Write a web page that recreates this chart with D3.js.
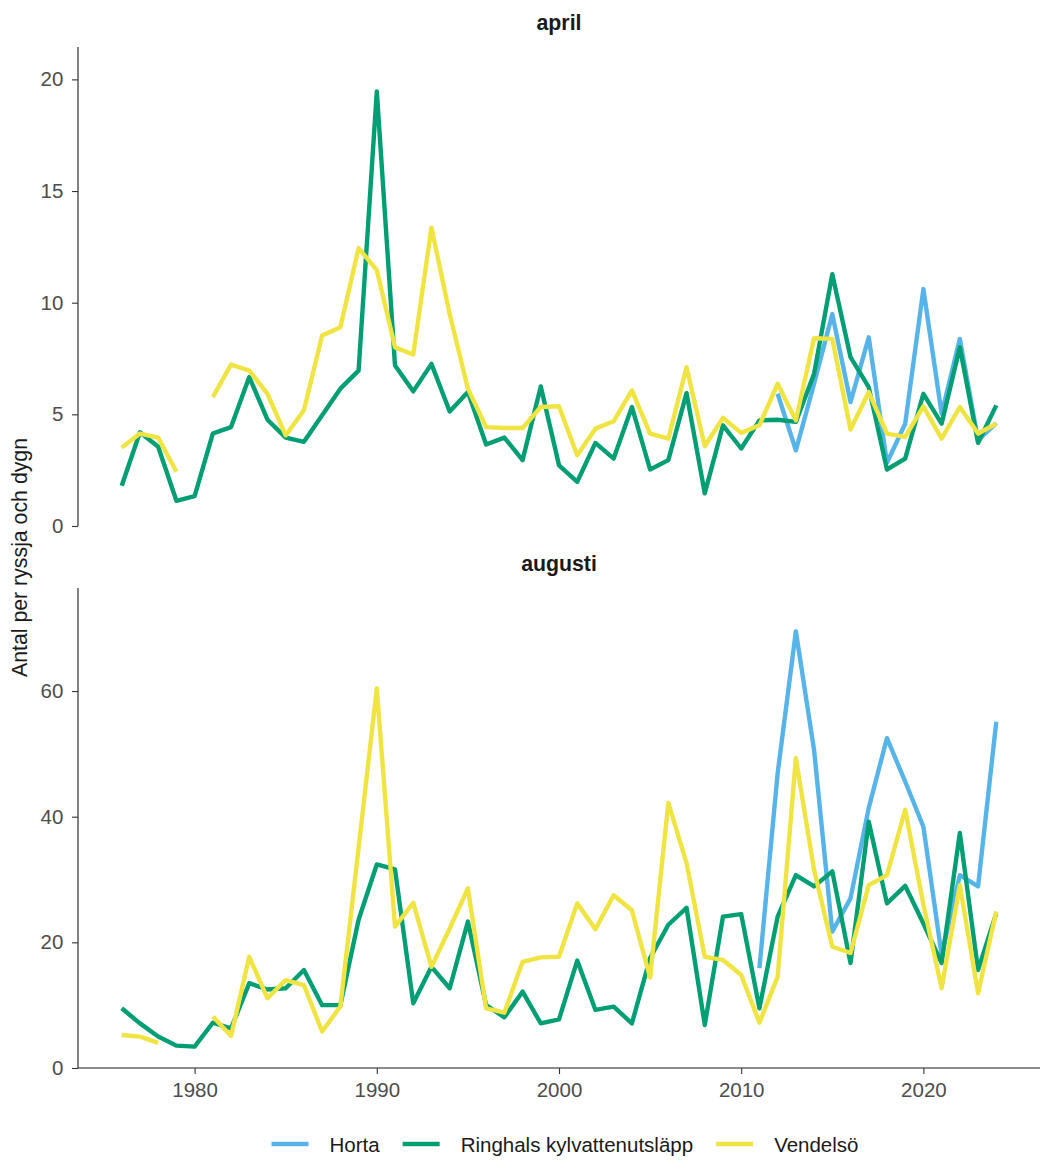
<!DOCTYPE html>
<html>
<head>
<meta charset="utf-8">
<script src="https://cdn.jsdelivr.net/npm/d3@7"></script>
<style>
  body { margin: 0; background: #fff; }
  svg text { font-family: "Liberation Sans", Arial, Helvetica, sans-serif; }
</style>
</head>
<body>
<div id="chart"></div>
<script>
// years on the x axis
const years = [1976, 1977, 1978, 1979, 1980, 1981, 1982, 1983, 1984, 1985,
  1986, 1987, 1988, 1989, 1990, 1991, 1992, 1993, 1994, 1995,
  1996, 1997, 1998, 1999, 2000, 2001, 2002, 2003, 2004, 2005,
  2006, 2007, 2008, 2009, 2010, 2011, 2012, 2013, 2014, 2015,
  2016, 2017, 2018, 2019, 2020, 2021, 2022, 2023, 2024];

const seriesNames = ['Horta', 'Ringhals kylvattenutsläpp', 'Vendelsö'];
const seriesColors = ['#56B4E9', '#009E73', '#F0E442'];
const panelNames = ['april', 'augusti'];
const xTicks = [1980, 1990, 2000, 2010, 2020];
const aprilTicks = [0, 5, 10, 15, 20];
const augustiTicks = [0, 20, 40, 60];

// april, one value per year (null = no data)
const aprilRinghals = [1.8, 4.2, 3.55, 1.13, 1.34, 4.14, 4.43, 6.67, 4.76, 3.96,
  3.77, 4.96, 6.15, 6.96, 19.46, 7.19, 6.03, 7.26, 5.13, 6.0,
  3.65, 3.96, 2.95, 6.25, 2.72, 1.98, 3.72, 3.02, 5.33, 2.53,
  2.95, 5.95, 1.46, 4.51, 3.47, 4.73, 4.76, 4.66, 6.82, 11.28,
  7.56, 6.22, 2.53, 3.02, 5.92, 4.58, 8.0, 3.72, 5.4];
const aprilVendelso = [3.51, 4.14, 3.96, 2.43, null, 5.77, 7.23, 6.96, 5.92, 4.06,
  5.18, 8.53, 8.9, 12.44, 11.46, 8.0, 7.68, 13.36, 9.49, 6.15,
  4.43, 4.39, 4.39, 5.33, 5.36, 3.17, 4.36, 4.69, 6.07, 4.14,
  3.91, 7.11, 3.57, 4.84, 4.17, 4.51, 6.37, 4.73, 8.41, 8.38,
  4.32, 6.0, 4.14, 3.99, 5.36, 3.91, 5.33, 4.14, 4.58];
const aprilHortaYears = [2012, 2013, 2014, 2015, 2016, 2017, 2018, 2019, 2020, 2021, 2022, 2023, 2024];
const aprilHorta = [5.92, 3.39, 6.37, 9.49, 5.55, 8.45, 2.83, 4.58, 10.61, 5.03, 8.38, 3.84, 4.61];

// augusti
const augustiRinghals = [9.5, 7.1, 5.0, 3.56, 3.4, 7.2, 6.3, 13.5, 12.5, 12.7,
  15.6, 10.0, 10.0, 23.6, 32.4, 31.6, 10.3, 16.1, 12.7, 23.3,
  10.0, 8.07, 12.15, 7.1, 7.75, 17.1, 9.24, 9.77, 7.1, 17.5,
  22.8, 25.5, 6.85, 24.1, 24.5, 9.5, 24.1, 30.7, 28.9, 31.3,
  16.7, 39.2, 26.2, 29.0, 23.0, 16.7, 37.4, 15.6, 24.6];
const augustiVendelso = [5.25, 5.0, 4.0, null, null, 8.2, 5.1, 17.7, 11.1, 14.0,
  13.2, 5.8, 9.8, 35.0, 60.4, 22.5, 26.3, 16.1, 22.2, 28.6,
  9.5, 8.8, 16.9, 17.6, 17.7, 26.2, 22.1, 27.5, 25.1, 14.4,
  42.2, 32.6, 17.7, 17.2, 14.8, 7.2, 14.5, 49.3, 31.5, 19.3,
  18.3, 29.1, 30.7, 41.1, 26.0, 12.7, 29.1, 11.9, 24.9];
const augustiHortaYears = [2011, 2012, 2013, 2014, 2015, 2016, 2017, 2018, 2019, 2020, 2021, 2022, 2023, 2024];
const augustiHorta = [15.9, 46.9, 69.5, 50.6, 21.7, 27.0, 41.4, 52.5, 45.6, 38.4, 18.0, 30.7, 28.9, 55.1];

const width = 1042;
const height = 1163;
const plotLeft = 78;
const plotRight = 1040;
const tickFont = '20.5px';

const svg = d3.select('#chart').append('svg')
  .attr('width', width)
  .attr('height', height);

const x = d3.scaleLinear().domain([1973.6, 2026.4]).range([plotLeft, plotRight]);

function zipYears(yrs, vals) {
  return yrs.map((year, i) => ({ year, value: vals[i] }));
}

const panels = [
  {
    name: panelNames[0], top: 47, bottom: 526, max: 21.45, ticks: aprilTicks, titleY: 29.5,
    series: [zipYears(aprilHortaYears, aprilHorta), zipYears(years, aprilRinghals), zipYears(years, aprilVendelso)],
  },
  {
    name: panelNames[1], top: 588, bottom: 1068, max: 76.4, ticks: augustiTicks, titleY: 570.5,
    series: [zipYears(augustiHortaYears, augustiHorta), zipYears(years, augustiRinghals), zipYears(years, augustiVendelso)],
  },
];

panels.forEach((p, pi) => {
  const y = d3.scaleLinear().domain([0, p.max]).range([p.bottom, p.top]);
  const g = svg.append('g');

  // strip title
  g.append('text')
    .attr('x', (plotLeft + plotRight) / 2)
    .attr('y', p.titleY)
    .attr('text-anchor', 'middle')
    .style('font-size', '21.3px')
    .style('font-weight', 'bold')
    .attr('fill', '#1a1a1a')
    .text(p.name);

  // y axis
  const yAxis = g.append('g')
    .attr('transform', `translate(${plotLeft},0)`)
    .call(d3.axisLeft(y).tickValues(p.ticks).tickSize(6).tickPadding(8.7).tickFormat(d3.format('d')));
  yAxis.select('.domain').attr('stroke', '#1a1a1a').attr('stroke-width', 1.1).attr('d', `M0,${p.bottom}V${p.top}`);
  yAxis.selectAll('.tick line').attr('stroke', '#333').attr('stroke-width', 1.1);
  yAxis.selectAll('.tick text').attr('fill', '#4d4d4d').style('font-size', tickFont);

  // x axis only under the last panel
  if (pi === panels.length - 1) {
    const xAxis = g.append('g')
      .attr('transform', `translate(0,${p.bottom})`)
      .call(d3.axisBottom(x).tickValues(xTicks).tickSize(6).tickPadding(8.7).tickFormat(d3.format('d')));
    xAxis.select('.domain').attr('stroke', '#1a1a1a').attr('stroke-width', 1.1).attr('d', `M${plotLeft},0H${plotRight}`);
    xAxis.selectAll('.tick line').attr('stroke', '#333').attr('stroke-width', 1.1);
    xAxis.selectAll('.tick text').attr('fill', '#4d4d4d').style('font-size', tickFont);
  }

  const line = d3.line()
    .defined((d) => d.value != null)
    .x((d) => x(d.year))
    .y((d) => y(d.value));

  p.series.forEach((s, si) => {
    g.append('path')
      .datum(s)
      .attr('d', line)
      .attr('fill', 'none')
      .attr('stroke', seriesColors[si])
      .attr('stroke-width', 4.4)
      .attr('stroke-linejoin', 'round')
      .attr('stroke-linecap', 'butt');
  });
});

// y axis title, centred on the panel area
svg.append('text')
  .attr('transform', `translate(27,${(47 + 1068) / 2}) rotate(-90)`)
  .attr('text-anchor', 'middle')
  .style('font-size', '21.3px')
  .attr('fill', '#1a1a1a')
  .text('Antal per ryssja och dygn');

// legend, laid out from measured text widths, starts where the reference starts
const keyLen = 37;
const keyGap = 21;
const itemGap = 23;
const legend = svg.append('g').attr('transform', 'translate(0,1144)');
const items = seriesNames.map((name, i) => {
  const item = legend.append('g');
  item.append('line')
    .attr('x1', 0).attr('x2', keyLen)
    .attr('y1', 0).attr('y2', 0)
    .attr('stroke', seriesColors[i])
    .attr('stroke-width', 4.4);
  const t = item.append('text')
    .attr('x', keyLen + keyGap)
    .attr('y', 7.5)
    .style('font-size', '20.5px')
    .attr('fill', '#1a1a1a')
    .text(name);
  return { item, w: keyLen + keyGap + t.node().getComputedTextLength() };
});
const total = d3.sum(items, (d) => d.w) + itemGap * (items.length - 1);
let cursor = (plotLeft + plotRight) / 2 + 6 - total / 2;
items.forEach((d) => {
  d.item.attr('transform', `translate(${cursor},0)`);
  cursor += d.w + itemGap;
});
</script>
</body>
</html>
